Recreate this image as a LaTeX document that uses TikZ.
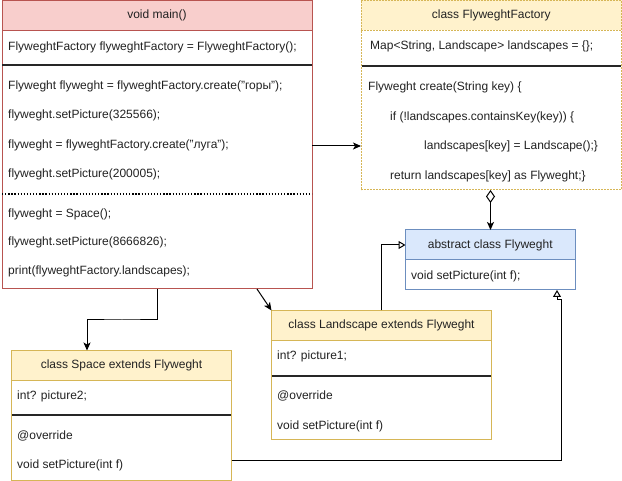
\documentclass[tikz,border=0pt]{standalone}
\usepackage{fontspec}
\setmainfont{Liberation Sans}
\usetikzlibrary{arrows.meta}
\definecolor{redfill}{HTML}{F8CECC}
\definecolor{redline}{HTML}{B85450}
\definecolor{yelfill}{HTML}{FFF2CC}
\definecolor{yelline}{HTML}{D6B656}
\definecolor{bluefill}{HTML}{DAE8FC}
\definecolor{blueline}{HTML}{6C8EBF}
\definecolor{txtcol}{HTML}{222222}
\tikzset{
  box/.style={draw, line width=1pt, inner sep=0pt, outer sep=0pt, anchor=north west, fill=white},
  hdr/.style={box, minimum height=30pt, text=txtcol, font=\fontsize{12}{14}\selectfont},
  txt/.style={anchor=west, inner sep=0pt, text=txtcol, font=\fontsize{12}{14}\selectfont},
  sep/.style={line width=2pt, draw=black!85},
  conn/.style={line width=1pt, draw=black},
  arr/.style={conn, -{Stealth[length=8pt,width=7pt,inset=2pt]}},
  inh/.style={conn, -{Triangle[open,length=7pt,width=8pt,fill=white]}},
  dashyel/.style={draw=yelline, dash pattern=on 2pt off 1pt},
}
\begin{document}
\begin{tikzpicture}[x=1pt,y=-1pt]
\useasboundingbox (0,0) rectangle (622,481);

% ---------- void main ----------
\node[box, draw=redline, minimum width=310pt, minimum height=288.5pt] (main) at (2,0.5) {};
\node[hdr, draw=redline, fill=redfill, minimum width=310pt] (mainhead) at (2,0.5) {void main()};
\node[txt] (m1) at (8,47) {FlyweghtFactory flyweghtFactory = FlyweghtFactory();};
\draw[sep] (2,65) -- (312,65);
\node[txt] (m2) at (8,86) {Flyweght flyweght = flyweghtFactory.create("горы");};
\node[txt] (m3) at (8,115) {flyweght.setPicture(325566);};
\node[txt] (m4) at (8,145) {flyweght = flyweghtFactory.create("луга");};
\node[txt] (m5) at (8,174) {flyweght.setPicture(200005);};
\draw[line width=1.3pt, dash pattern=on 1.3pt off 1.8pt] (2,194) -- (312,194);
\node[txt] (m6) at (8,214) {flyweght = Space();};
\node[txt] (m7) at (8,242) {flyweght.setPicture(8666826);};
\node[txt] (m8) at (8,271) {print(flyweghtFactory.landscapes);};

% ---------- FlyweghtFactory ----------
\node[box, dashyel, minimum width=260.5pt, minimum height=189.5pt] (fact) at (361,0.5) {};
\node[hdr, dashyel, fill=yelfill, minimum width=260.5pt] (facthead) at (361,0.5) {class FlyweghtFactory};
\node[txt] (f1) at (370,46) {Map<String, Landscape> landscapes = \{\};};
\draw[sep] (361.5,66) -- (621,66);
\node[txt] (f2) at (368,87) {Flyweght create(String key) \{};
\node[txt] (f3) at (390,117) {if (!landscapes.containsKey(key)) \{};
\node[txt] (f4) at (424,146) {landscapes[key] = Landscape();\}};
\node[txt] (f5) at (390,176) {return landscapes[key] as Flyweght;\}};

% ---------- abstract class Flyweght ----------
\node[box, draw=blueline, minimum width=169.5pt, minimum height=60pt] (fly) at (405.5,230) {};
\node[hdr, draw=blueline, fill=bluefill, minimum width=169.5pt] (flyhead) at (405.5,230) {abstract class Flyweght};
\node[txt] (y1) at (411,276) {void setPicture(int f);};

% ---------- Landscape ----------
\node[box, draw=yelline, minimum width=220pt, minimum height=129.5pt] (land) at (271.5,310.5) {};
\node[hdr, draw=yelline, fill=yelfill, minimum width=220pt] (landhead) at (271.5,310.5) {class Landscape extends Flyweght};
\node[txt] (l1) at (277,356) {int? picture1;};
\draw[sep] (272,376) -- (491,376);
\node[txt] (l2) at (277,396) {@override};
\node[txt] (l3) at (277,426) {void setPicture(int f)};

% ---------- Space ----------
\node[box, draw=yelline, minimum width=220pt, minimum height=129.5pt] (space) at (11.5,350.5) {};
\node[hdr, draw=yelline, fill=yelfill, minimum width=220pt] (spacehead) at (11.5,350.5) {class Space extends Flyweght};
\node[txt] (s1) at (17,396) {int? picture2;};
\draw[sep] (12,415) -- (231,415);
\node[txt] (s2) at (17,436) {@override};
\node[txt] (s3) at (17,465) {void setPicture(int f)};

% ---------- connectors ----------
\coordinate (mainR) at (312,146);
\draw[arr] (mainR) -- (mainR -| fact.west);

\coordinate (factB) at (490.5,190);
\coordinate (flyT) at (490.5,230);
\draw[conn, {Diamond[open,length=13pt,width=9pt,fill=white]}-{Stealth[length=8pt,width=7pt,inset=2pt]}] (factB) -- (flyT);

\coordinate (mainB1) at (157,289);
\coordinate (spaceT) at (87,350.5);
\draw[arr] (mainB1) |- (122,320) -| (spaceT);

\coordinate (mainB2) at (257,289);
\draw[arr] (mainB2) -- (land.north west);

\coordinate (landT) at (381,310.5);
\draw[inh] (landT) |- (flyhead.west);

\coordinate (spaceR) at (231.5,460);
\coordinate (flyB) at (557,290);
\draw[inh] (spaceR) -| (561,300) -| (flyB);
\end{tikzpicture}
\end{document}
